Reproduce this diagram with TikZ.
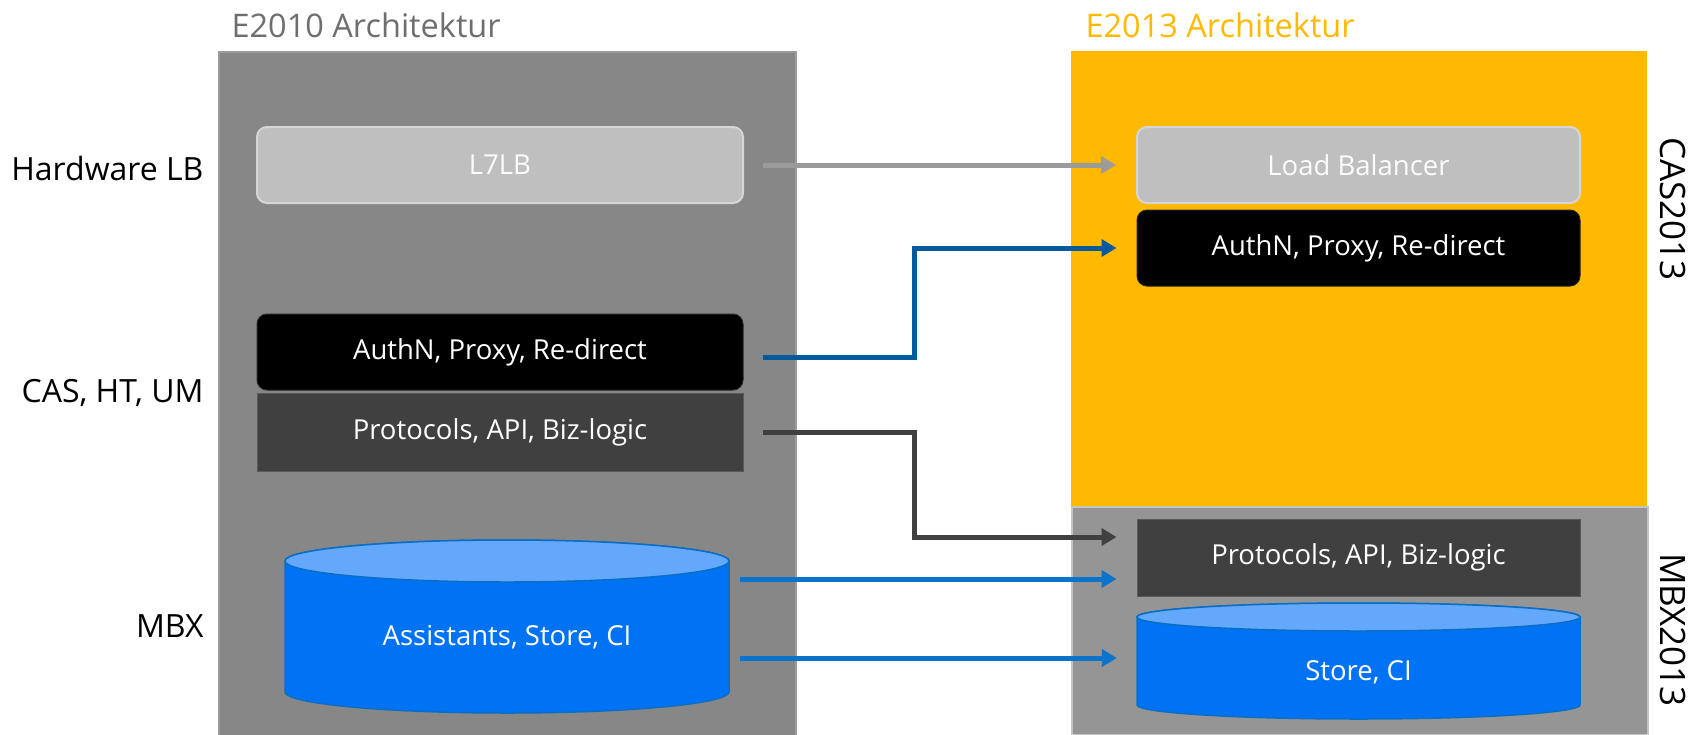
\documentclass[tikz,border=0pt]{standalone}
\usepackage{fontspec}
\setmainfont{Open Sans}
\usetikzlibrary{arrows.meta}
\definecolor{panelL}{HTML}{878787}
\definecolor{panelLedge}{HTML}{9C9C9C}
\definecolor{panelO}{HTML}{FFB900}
\definecolor{panelG}{HTML}{959595}
\definecolor{panelGedge}{HTML}{C4C4C4}
\definecolor{lbfill}{HTML}{BFBFBF}
\definecolor{lbedge}{HTML}{D6D6D6}
\definecolor{protofill}{HTML}{404040}
\definecolor{protoedge}{HTML}{595959}
\definecolor{cylbody}{HTML}{0073F5}
\definecolor{cyltop}{HTML}{64A8FC}
\definecolor{cyledge}{HTML}{0A6FC4}
\definecolor{arrgray}{HTML}{9B9B9B}
\definecolor{arrdblue}{HTML}{045A9C}
\definecolor{arrdark}{HTML}{404040}
\definecolor{arrblue}{HTML}{0A74CC}
\definecolor{titlegray}{HTML}{6E6E6E}
\tikzset{
  boxtext/.style={font=\fontsize{27.5}{32}\selectfont, text=white},
  sidelabel/.style={font=\fontsize{32}{38}\selectfont, text=black},
  rotlabel/.style={font=\fontsize{35}{40}\selectfont, text=black, rotate=-90},
  titletext/.style={font=\fontsize{32.5}{38}\selectfont},
  lbbox/.style={boxtext, rounded corners=10pt, fill=lbfill, draw=lbedge, line width=2pt,
     minimum width=486pt, minimum height=76pt, text=white!95!lbfill},
  authbox/.style={boxtext, rounded corners=10pt, fill=black, draw=black!85, line width=1pt,
     minimum width=486pt, minimum height=76pt},
  protobox/.style={boxtext, fill=protofill, draw=protoedge, line width=1pt,
     minimum width=486pt, minimum height=78pt},
  cylnode/.style={boxtext, minimum width=444pt},
  conn/.style={line width=5pt, -{Triangle[length=15pt,width=17pt]}},
}
\begin{document}
\begin{tikzpicture}[x=1pt,y=1pt]
\useasboundingbox (0,0) rectangle (1699,-734);

% panels
\node[fill=panelL, draw=panelLedge, line width=1.5pt, minimum width=577pt, minimum height=684pt,
  anchor=north west, inner sep=0pt] (oldpanel) at (218,-51) {};
\node[fill=panelO, minimum width=576pt, minimum height=455pt, anchor=north west, inner sep=0pt]
  (caspanel) at (1071,-51) {};
\node[fill=panelG, draw=panelGedge, line width=1.5pt, minimum width=576pt, minimum height=228pt,
  anchor=north west, inner sep=0pt] (mbxpanel) at (1071,-506) {};

% titles
\node[titletext, text=titlegray, anchor=west] (t2010) at (228,-25) {E2010 Architektur};
\node[titletext, text=panelO, anchor=west] (t2013) at (1082,-25) {E2013 Architektur};

% side labels
\node[sidelabel, anchor=east] (lhw) at (207,-168) {Hardware LB};
\node[sidelabel, anchor=east] (lcas) at (207,-393) {CAS, HT, UM};
\node[sidelabel, anchor=east] (lmbx) at (207,-626) {MBX};
\node[rotlabel] (lcas13) at (1673,-209) {CAS2013};
\node[rotlabel] (lmbx13) at (1673,-630) {MBX2013};

% left boxes
\node[lbbox] (l7) at (500,-165) {L7LB};
\node[authbox] (authold) at (500,-352) {AuthN, Proxy, Re-direct};
\node[protobox] (protoold) at (500,-432) {Protocols, API, Biz-logic};

% right boxes
\node[lbbox, minimum width=443pt] (lbnew) at (1358.5,-165) {Load Balancer};
\node[authbox, minimum width=443pt] (authnew) at (1358.5,-248) {AuthN, Proxy, Re-direct};
\node[protobox, minimum width=443pt, minimum height=77pt] (protonew) at (1358.5,-557.5) {Protocols, API, Biz-logic};

% left cylinder
\filldraw[fill=cylbody, draw=cyledge, line width=1.5pt]
  (285,-561) -- (285,-692) arc[start angle=180, end angle=360, x radius=222, y radius=21]
  -- (729,-561) arc[start angle=0, end angle=180, x radius=222, y radius=21] -- cycle;
\filldraw[fill=cyltop, draw=cyledge, line width=1.5pt] (507,-561) ellipse[x radius=222, y radius=21];
\node[cylnode] (storeold) at (507,-637) {Assistants, Store, CI};

% right cylinder
\filldraw[fill=cylbody, draw=cyledge, line width=1.5pt]
  (1137,-617) -- (1137,-705) arc[start angle=180, end angle=360, x radius=221.5, y radius=14]
  -- (1580,-617) arc[start angle=0, end angle=180, x radius=221.5, y radius=14] -- cycle;
\filldraw[fill=cyltop, draw=cyledge, line width=1.5pt] (1358.5,-617) ellipse[x radius=221.5, y radius=14];
\node[cylnode, minimum width=443pt] (storenew) at (1358.5,-672) {Store, CI};

% connectors
\draw[conn, draw=arrgray] ([xshift=19pt]l7.east) -- ([xshift=-20pt]lbnew.west);
\draw[conn, draw=arrdblue] ([xshift=19pt,yshift=-5pt]authold.east) -- ++(152,0)
  |- ([xshift=-20pt]authnew.west);
\draw[conn, draw=arrdark] ([xshift=19pt]protoold.east) -- ++(152,0)
  |- ([xshift=-20pt,yshift=20.5pt]protonew.west);
\draw[conn, draw=arrblue] ([xshift=11pt,yshift=58pt]storeold.east)
  -- ([xshift=-20pt,yshift=-21.5pt]protonew.west);
\draw[conn, draw=arrblue] ([xshift=11pt,yshift=-21pt]storeold.east)
  -- ([xshift=-20pt,yshift=14pt]storenew.west);
\end{tikzpicture}
\end{document}
